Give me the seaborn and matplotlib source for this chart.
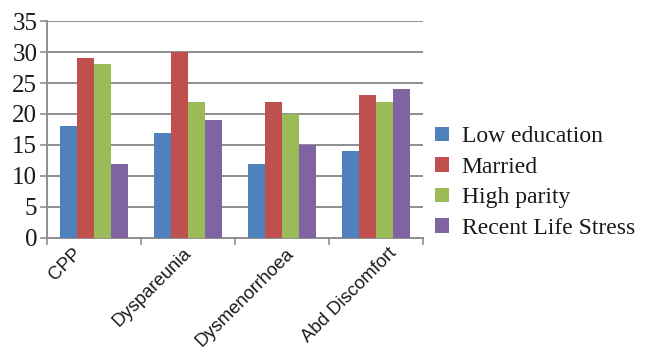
import matplotlib
matplotlib.use("Agg")
import matplotlib.pyplot as plt
from matplotlib.patches import Patch
from matplotlib.ticker import FixedLocator, NullFormatter
from matplotlib.transforms import ScaledTranslation
import seaborn as sns
import pandas as pd

categories = ["CPP", "Dyspareunia", "Dysmenorrhoea", "Abd Discomfort"]
series_names = ["Low education", "Married", "High parity", "Recent Life Stress"]
low_education = [18, 17, 12, 14]
married = [29, 30, 22, 23]
high_parity = [28, 22, 20, 22]
recent_life_stress = [12, 19, 15, 24]
y_ticks = [0, 5, 10, 15, 20, 25, 30, 35]

colors = ["#4F81BD", "#C0504D", "#9BBB59", "#8064A2"]
# horizontal nudge (pixels) of each rotated category label
label_nudge_px = [-21, -5, 3, 12]

rows = []
for name, vals in zip(series_names,
                      [low_education, married, high_parity, recent_life_stress]):
    for cat, v in zip(categories, vals):
        rows.append({"category": cat, "series": name, "value": v})
df = pd.DataFrame(rows)

sns.set_theme(style="white")
fig = plt.figure(figsize=(6.51, 3.53), dpi=100)
ax = fig.add_axes([0.0722, 0.3258, 0.5776, 0.6147])

sns.barplot(data=df, x="category", y="value", hue="series",
            hue_order=series_names, order=categories, palette=colors,
            width=0.723, saturation=1, ax=ax, legend=False, errorbar=None,
            edgecolor="none", linewidth=0, zorder=3)

ax.set_xlim(-0.5, 3.5)
ax.set_ylim(0, 35)
ax.set_yticks(y_ticks)
ax.set_xlabel("")
ax.set_ylabel("")

grid_col = "#8E8E8E"
for y in y_ticks[1:]:
    ax.axhline(y, color=grid_col, lw=1.4, zorder=1)

for s in ["top", "right"]:
    ax.spines[s].set_visible(False)
for s in ["left", "bottom"]:
    ax.spines[s].set_color(grid_col)
    ax.spines[s].set_linewidth(1.4)

ax.tick_params(axis="y", which="major", direction="out", length=5,
               width=1.2, color=grid_col, left=True, pad=2)
ax.tick_params(axis="x", which="major", length=0, pad=5)
ax.xaxis.set_minor_locator(FixedLocator([-0.5, 0.5, 1.5, 2.5, 3.5]))
ax.xaxis.set_minor_formatter(NullFormatter())
ax.tick_params(axis="x", which="minor", direction="out", length=5,
               width=1.2, color=grid_col, bottom=True)

for lbl in ax.get_yticklabels():
    lbl.set_fontfamily("Liberation Serif")
    lbl.set_fontsize(18)
    lbl.set_color("#1a1a1a")

ax.set_xticks(range(len(categories)))
ax.set_xticklabels(categories, rotation=45, ha="right",
                   rotation_mode="anchor", fontfamily="Liberation Sans",
                   fontsize=13.3, color="#1a1a1a")
for lbl, dx in zip(ax.get_xticklabels(), label_nudge_px):
    shift = ScaledTranslation(dx / 100, 0, fig.dpi_scale_trans)
    lbl.set_transform(lbl.get_transform() + shift)

handles = [Patch(facecolor=c, edgecolor="none") for c in colors]
fig.legend(handles, series_names, loc="upper left",
           bbox_to_anchor=(0.668, 0.642), frameon=False,
           prop={"family": "Liberation Serif", "size": 17},
           handlelength=0.58, handleheight=0.58, handletextpad=0.55,
           labelspacing=0.4, labelcolor="#1a1a1a", borderaxespad=0.0,
           borderpad=0.0)

fig.savefig("out.png", dpi=100)
